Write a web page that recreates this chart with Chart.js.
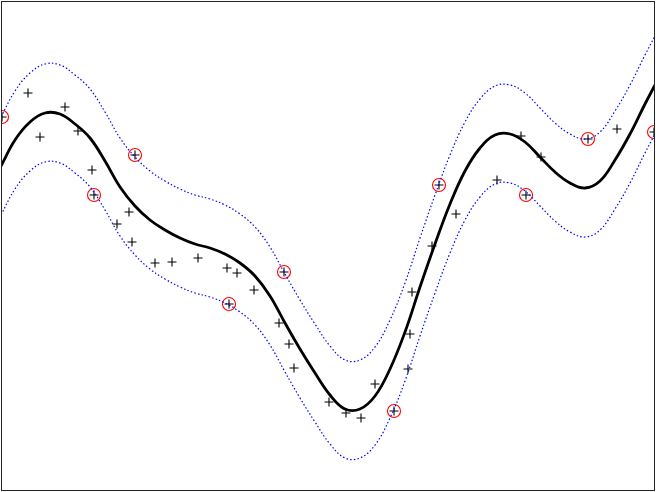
<!DOCTYPE html>
<html>
<head>
<meta charset="utf-8">
<script src="https://cdn.jsdelivr.net/npm/chart.js@4/dist/chart.umd.min.js"></script>
<style>
    html, body { margin: 0; padding: 0; background: #ffffff; }
    #svrChart { display: block; }
</style>
</head>
<body>
<canvas id="svrChart" width="656" height="492"></canvas>
<script>
// Regression curve (x, y)
const fitX = [1, 15, 30, 45, 60, 75, 90, 105, 120, 135, 150, 165, 180, 195, 210, 225, 240, 255, 270, 285, 300, 315, 330, 345, 360, 375, 390, 405, 420, 435, 450, 465, 480, 495, 510, 525, 540, 555, 570, 585, 600, 615, 630, 645, 655];
const fitY = [324, 350, 368, 377, 376, 366, 352, 329, 303, 284, 270, 260, 252, 246, 242, 236, 227, 214, 194, 167, 141, 117, 95, 81, 81, 94, 121, 158, 203, 246, 286, 319, 342, 355, 356, 348, 333, 318, 307, 302, 309, 330, 356, 386, 405];

// epsilon tube, upper and lower edges
const upperY = [373, 399, 417, 426, 425, 415, 401, 378, 352, 333, 319, 309, 301, 295, 291, 285, 276, 263, 243, 216, 190, 166, 144, 130, 130, 143, 170, 207, 252, 295, 335, 368, 391, 404, 405, 397, 382, 367, 356, 351, 358, 379, 405, 435, 454];
const lowerY = [275, 301, 319, 328, 327, 317, 303, 280, 254, 235, 221, 211, 203, 197, 193, 187, 178, 165, 145, 118, 92, 68, 46, 32, 32, 45, 72, 109, 154, 197, 237, 270, 293, 306, 307, 299, 284, 269, 258, 253, 260, 281, 307, 337, 356];

// training samples
const sampleX = [2, 28, 40, 65, 78, 92, 94, 117, 129, 132, 135, 155, 172, 198, 227, 229, 237, 254, 279, 284, 289, 294, 329, 346, 361, 375, 394, 408, 410, 412, 432, 439, 456, 497, 521, 526, 541, 588, 617, 654];
const sampleY = [373, 397, 353, 383, 359, 320, 295, 266, 278, 248, 335, 227, 228, 232, 222, 186, 217, 200, 167, 218, 146, 122, 88, 77, 72, 106, 79, 121, 156, 198, 244, 305, 276, 310, 354, 295, 333, 351, 361, 358];

// support vectors (circled)
const svX = [2, 94, 135, 229, 284, 394, 439, 526, 588, 654];
const svY = [373, 295, 335, 186, 218, 79, 305, 295, 351, 358];

const toPoints = (xs, ys) => xs.map((x, i) => ({ x: x, y: ys[i] }));

// Rahmen um den Plotbereich
const frame = {
    id: 'frame',
    afterDraw(chart) {
        const { ctx, chartArea } = chart;
        ctx.save();
        ctx.strokeStyle = '#262626';
        ctx.lineWidth = 1;
        ctx.strokeRect(chartArea.left + 0.5, chartArea.top + 0.5, chartArea.width - 1, chartArea.height);
        ctx.restore();
    }
};

const tubeStyle = {
    showLine: true,
    borderColor: '#0000ff',
    borderWidth: 1.2,
    borderDash: [1.5, 2.2],
    pointRadius: 0,
    tension: 0.4,
    fill: false,
    clip: 0
};

new Chart(document.getElementById('svrChart').getContext('2d'), {
    type: 'scatter',
    data: {
        datasets: [
            Object.assign({ label: 'upper', data: toPoints(fitX, upperY) }, tubeStyle),
            Object.assign({ label: 'lower', data: toPoints(fitX, lowerY) }, tubeStyle),
            {
                label: 'fit',
                data: toPoints(fitX, fitY),
                showLine: true,
                borderColor: '#000000',
                borderWidth: 2.8,
                pointRadius: 0,
                tension: 0.4,
                clip: 0
            },
            {
                label: 'support vectors',
                data: toPoints(svX, svY),
                pointStyle: 'circle',
                pointRadius: 6.5,
                borderColor: '#ff0000',
                backgroundColor: 'rgba(0,0,0,0)',
                borderWidth: 1.1,
                clip: 0
            },
            {
                label: 'samples',
                data: toPoints(sampleX, sampleY),
                pointStyle: 'cross',
                pointRadius: 4.5,
                borderColor: '#000000',
                borderWidth: 1.1,
                clip: 0
            }
        ]
    },
    options: {
        responsive: false,
        animation: false,
        events: [],
        layout: { autoPadding: false, padding: { left: 1, top: 1, right: 1, bottom: 2 } },
        scales: {
            x: { type: 'linear', min: 1, max: 655, display: false },
            y: { type: 'linear', min: 0, max: 489, display: false }
        },
        plugins: {
            legend: { display: false },
            tooltip: { enabled: false }
        }
    },
    plugins: [frame]
});
</script>
</body>
</html>
